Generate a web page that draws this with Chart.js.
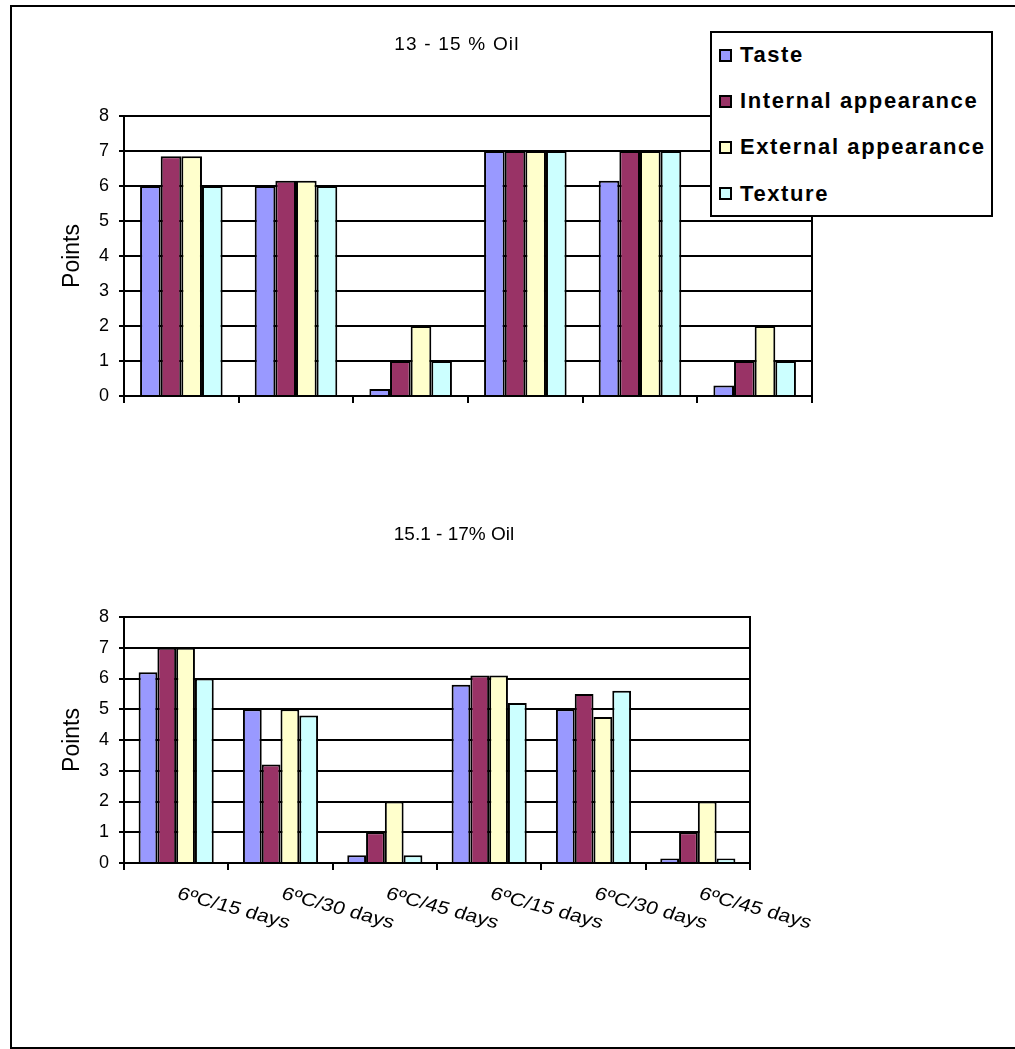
<!DOCTYPE html>
<html>
<head>
<meta charset="utf-8">
<title>Sensory scores by storage time</title>
<script src="https://cdn.jsdelivr.net/npm/chart.js@4.4.1/dist/chart.umd.min.js"></script>
<style>
  html, body { margin: 0; padding: 0; background: #fff; }
  body { width: 1015px; height: 1049px; position: relative; overflow: hidden;
         font-family: "Liberation Sans", Arial, sans-serif; }
  #frame { position: absolute; left: 10px; top: 5px; width: 1200px; height: 1044px;
           border-left: 2px solid #000; border-top: 2px solid #000; border-bottom: 2px solid #000;
           box-sizing: border-box; }
  canvas { position: absolute; left: 0; }
  #cLow { top: 0; }
  #cHigh { top: 470px; }
  #legend { position: absolute; left: 710px; top: 31px; width: 283px; height: 186px;
            border: 2px solid #000; box-sizing: border-box; background: #fff; z-index: 2; }
  #legend .row { position: absolute; left: 7px; height: 46px; display: flex; align-items: center;
                 white-space: nowrap; }
  #legend .swatch { width: 13px; height: 13px; border: 2px solid #000; box-sizing: border-box;
                    margin-right: 8px; }
  #legend .name { font-weight: bold; font-size: 22px; letter-spacing: 1.6px; color: #000; }
</style>
</head>
<body>
<div id="frame"></div>
<canvas id="cLow" width="1015" height="470"></canvas>
<canvas id="cHigh" width="1015" height="560"></canvas>
<div id="legend"></div>

<script>
// Storage conditions (same six for both oil ranges)
const categories = ['6ºC/15 days', '6ºC/30 days', '6ºC/45 days', '6ºC/15 days', '6ºC/30 days', '6ºC/45 days'];
const seriesNames = ['Taste', 'Internal appearance', 'External appearance', 'Texture'];
const seriesColors = ['#9999FF', '#993366', '#FFFFCC', '#CCFFFF'];
const yTicks = [0, 1, 2, 3, 4, 5, 6, 7, 8];

// 13 - 15 % oil
const tasteLow    = [6, 6, 0.2, 7, 6.15, 0.3];
const internalLow = [6.85, 6.15, 1, 7, 7, 1];
const externalLow = [6.85, 6.15, 2, 7, 7, 2];
const textureLow  = [6, 6, 1, 7, 7, 1];

// 15.1 - 17 % oil
const tasteHigh    = [6.2, 5, 0.25, 5.8, 5, 0.15];
const internalHigh = [7, 3.2, 1, 6.1, 5.5, 1];
const externalHigh = [7, 5, 2, 6.1, 4.75, 2];
const textureHigh  = [6, 4.8, 0.25, 5.2, 5.6, 0.15];

Chart.defaults.font.family = '"Liberation Sans", Arial, sans-serif';
Chart.defaults.color = '#000';

// Legend box
const legendEl = document.getElementById('legend');
seriesNames.forEach((name, i) => {
  const row = document.createElement('div');
  row.className = 'row';
  row.style.top = (-1 + i * 46.2) + 'px';
  const sw = document.createElement('div');
  sw.className = 'swatch';
  sw.style.background = seriesColors[i];
  const tx = document.createElement('span');
  tx.className = 'name';
  tx.textContent = name;
  row.appendChild(sw);
  row.appendChild(tx);
  legendEl.appendChild(row);
});

// Plot-frame right edge, chart heading and slanted category labels
const sheetDecor = {
  id: 'sheetDecor',
  afterDraw(chart, args, opts) {
    const { ctx, chartArea } = chart;
    ctx.save();
    ctx.strokeStyle = '#000';
    ctx.lineWidth = 2;
    ctx.beginPath();
    ctx.moveTo(chartArea.right, chartArea.top - 1);
    ctx.lineTo(chartArea.right, chartArea.bottom);
    ctx.stroke();

    ctx.fillStyle = '#000';
    ctx.font = '19px "Liberation Sans", Arial, sans-serif';
    ctx.textAlign = 'center';
    ctx.textBaseline = 'middle';
    if ('letterSpacing' in ctx) ctx.letterSpacing = opts.headingSpacing + 'px';
    ctx.fillText(opts.heading, opts.headingX, opts.headingY);
    if ('letterSpacing' in ctx) ctx.letterSpacing = '0px';

    if (opts.showLabels) {
      const xs = chart.scales.x;
      ctx.font = '18px "Liberation Sans", Arial, sans-serif';
      ctx.textAlign = 'left';
      ctx.textBaseline = 'top';
      categories.forEach((label, i) => {
        ctx.save();
        ctx.translate(xs.getPixelForValue(i) + 5, chartArea.bottom + 22);
        ctx.scale(1.2, 1);
        ctx.rotate(18 * Math.PI / 180);
        ctx.fillText(label, 0, 0);
        ctx.restore();
      });
    }
    ctx.restore();
  }
};

function makeDatasets(values) {
  return seriesNames.map((name, i) => ({
    label: name,
    data: values[i],
    backgroundColor: seriesColors[i],
    borderColor: '#000',
    borderWidth: 2,
    borderSkipped: 'bottom',
    categoryPercentage: 0.72,
    barPercentage: 1.0
  }));
}

function makeChart(canvasId, values, padding, axisWidth, decor) {
  return new Chart(document.getElementById(canvasId), {
    type: 'bar',
    data: { labels: categories, datasets: makeDatasets(values) },
    plugins: [sheetDecor],
    options: {
      responsive: false,
      animation: false,
      devicePixelRatio: 1,
      layout: { padding: padding },
      plugins: {
        legend: { display: false },
        title: { display: false },
        tooltip: { enabled: false },
        sheetDecor: decor
      },
      scales: {
        x: {
          offset: true,
          grid: { display: true, offset: true, drawOnChartArea: false, drawTicks: true,
                  tickLength: 7, color: '#000', lineWidth: 2 },
          border: { display: true, color: '#000', width: 2 },
          ticks: { display: false },
          afterFit: (scale) => { scale.height = 10; }
        },
        y: {
          min: 0, max: 8,
          afterBuildTicks: (scale) => { scale.ticks = yTicks.map(v => ({ value: v })); },
          grid: { color: '#000', lineWidth: 2, tickLength: 5, drawTicks: true },
          border: { display: true, color: '#000', width: 2 },
          ticks: { font: { size: 18 }, padding: 10, color: '#000' },
          title: { display: true, text: 'Points', font: { size: 23 }, padding: 0, color: '#000' },
          afterFit: (scale) => { scale.width = axisWidth; }
        }
      }
    }
  });
}

makeChart('cLow',
  [tasteLow, internalLow, externalLow, textureLow],
  { left: 59, right: 203, top: 116, bottom: 64 }, 65,
  { heading: '13 - 15 % Oil', headingX: 457, headingY: 45, headingSpacing: 1.2, showLabels: false });

makeChart('cHigh',
  [tasteHigh, internalHigh, externalHigh, textureHigh],
  { left: 59, right: 265, top: 147, bottom: 157 }, 65,
  { heading: '15.1 - 17% Oil', headingX: 454, headingY: 65, headingSpacing: 0, showLabels: true });
</script>
</body>
</html>
